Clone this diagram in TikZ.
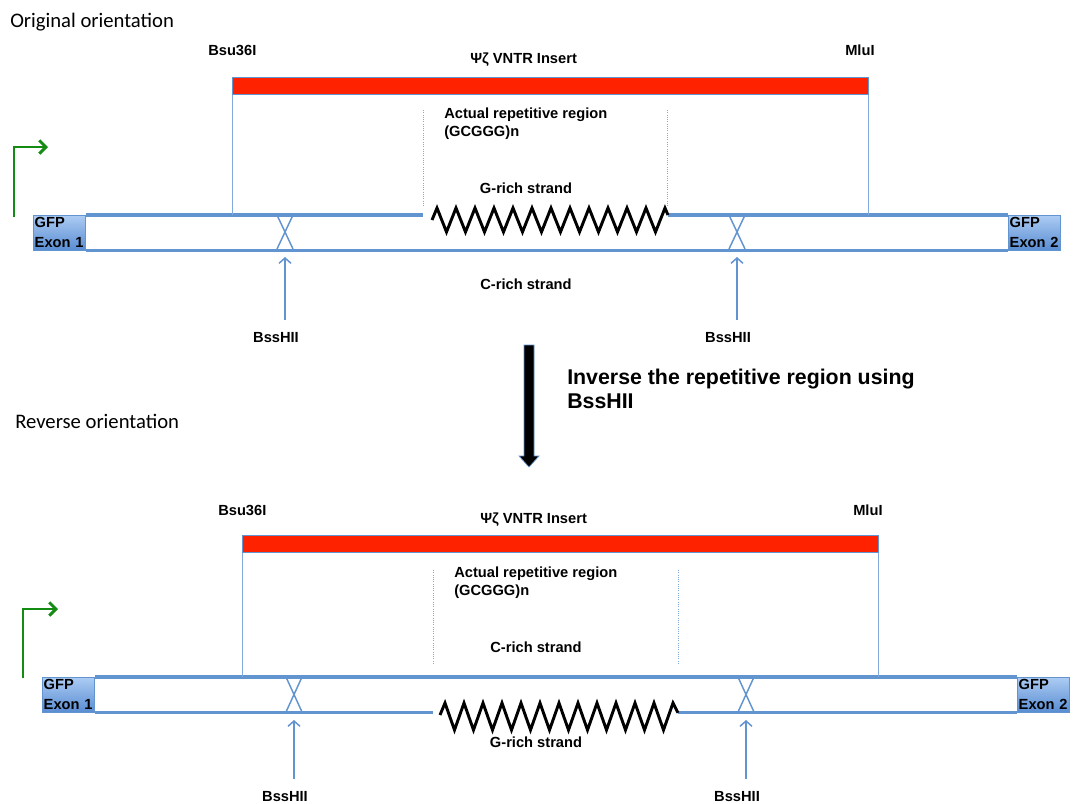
\documentclass[tikz,border=0pt]{standalone}
\usepackage{fontspec}
\setmainfont{Liberation Sans}
\newfontfamily\calfont{Carlito}
\usetikzlibrary{arrows.meta}

\definecolor{strandblue}{RGB}{98,148,208}
\definecolor{guideblue}{RGB}{130,170,220}
\definecolor{exonlight}{RGB}{172,204,243}
\definecolor{exondark}{RGB}{88,140,210}
\definecolor{insertred}{RGB}{255,34,0}
\definecolor{promgreen}{RGB}{20,140,20}

\begin{document}
\begin{tikzpicture}
[x=0.75pt,y=-0.75pt,
 heading/.style={font=\calfont\fontsize{15.5}{18}\selectfont,anchor=base west,inner sep=0pt},
 lbl/.style={font=\bfseries\fontsize{11}{13.5}\selectfont,inner sep=0pt},
 site/.style={lbl,anchor=base,inner ysep=9pt},
 exon/.style={draw=strandblue,line width=0.6pt,top color=exonlight,bottom color=exondark,
   minimum width=39pt,minimum height=26.25pt,text width=37pt,inner xsep=1pt,inner ysep=0.5pt,
   align=left,font=\bfseries\fontsize{11}{15}\selectfont,anchor=north west},
 insert/.style={draw=strandblue,line width=0.5pt,fill=insertred,minimum width=477pt,
   minimum height=12.75pt,anchor=north west,inner sep=0pt},
 strand/.style={draw=strandblue,line width=2.4pt},
 guide/.style={draw=guideblue,line width=0.6pt},
 inner guide/.style={draw=guideblue,line width=0.7pt,densely dotted},
 cross/.style={draw=strandblue,line width=1.1pt},
 zig/.style={draw=black,line width=2.2pt},
 cut/.style={draw=strandblue,line width=1.1pt,-{Straight Barb[length=4pt,width=9pt]},shorten >=6pt},
 promoter/.style={draw=promgreen,line width=2.2pt,-{Straight Barb[length=5pt,width=10pt]}}]

\useasboundingbox (0,0) rectangle (1074,803);

% original orientation
\node (orig) at (10,27) [heading] {Original orientation};
\node (bsuA) at (208,55) [lbl,anchor=base west] {Bsu36I};
\node (vntrA) at (470,63) [lbl,anchor=base west] {Ψζ VNTR Insert};
\node (mluA) at (845,55) [lbl,anchor=base west] {MluI};
\node (insA) at (232,77) [insert] {};
\node (repA) at (444,136) [lbl,anchor=base west,align=left] {Actual repetitive region\\(GCGGG)n};
\node (gA) at (526,193) [lbl,anchor=base] {G-rich strand};
\node (cA) at (526,289) [lbl,anchor=base] {C-rich strand};

\node (ex1) at (33,215) [exon] {GFP\\Exon 1};
\node (ex2) at (1008,215) [exon] {GFP\\Exon 2};
\coordinate (zigA1) at (423,215);
\coordinate (zigA2) at (668,215);

\draw[strand] (ex1.north east) -- (ex1.north east -| zigA1);
\draw[strand] (ex2.north west -| zigA2) -- (ex2.north west);
\draw[strand] (ex1.south east) -- (ex2.south west);
\draw[zig] (432,220) \foreach \k in {0,...,11} { -- ({437+19*\k},208) -- ({446.5+19*\k},232) } -- (665,208) -- (ex2.north west -| zigA2);

\draw[guide] (insA.south west) -- (insA.south west |- ex1.north);
\draw[guide] (insA.south east) -- (insA.south east |- ex1.north);
\draw[inner guide] (423,110) -- (423,207);
\draw[inner guide] (667,110) -- (667,207);

\coordinate (cutA1) at (285,249);
\coordinate (cutA2) at (737,249);
\foreach \c in {cutA1,cutA2}
  \draw[cross] (\c) ++(-8,-34) -- ++(16,34) ++(0,-34) -- ++(-16,34);
\node (bsA1) at (276,342) [site] {BssHII};
\node (bsA2) at (728,342) [site] {BssHII};
\draw[cut] (bsA1.north -| cutA1) -- (cutA1);
\draw[cut] (bsA2.north -| cutA2) -- (cutA2);

\coordinate (promA) at (14,217);
\draw[promoter] (promA) -- ++(0,-70) -- ++(34,0);

% inversion step
\draw[fill=black,draw=strandblue,line width=0.5pt] (524,345) -- (534,345) -- (534,456) -- (539,456)
  -- (529,467) -- (519,456) -- (524,456) -- cycle;
\node (inv) at (567,408) [anchor=base west,inner sep=0pt,align=left,
  font=\bfseries\fontsize{16}{18}\selectfont] {Inverse the repetitive region using\\BssHII};

% reverse orientation
\node (rev) at (15,428) [heading] {Reverse orientation};
\node (bsuB) at (218,515) [lbl,anchor=base west] {Bsu36I};
\node (vntrB) at (480,523) [lbl,anchor=base west] {Ψζ VNTR Insert};
\node (mluB) at (853,515) [lbl,anchor=base west] {MluI};
\node (insB) at (242,535) [insert] {};
\node (repB) at (454,595) [lbl,anchor=base west,align=left] {Actual repetitive region\\(GCGGG)n};
\node (cB) at (536,652) [lbl,anchor=base] {C-rich strand};
\node (gB) at (536,747) [lbl,anchor=base] {G-rich strand};

\node (ex3) at (42,677) [exon] {GFP\\Exon 1};
\node (ex4) at (1017,677) [exon] {GFP\\Exon 2};
\coordinate (zigB1) at (433,712);
\coordinate (zigB2) at (678,712);

\draw[strand] (ex3.north east) -- (ex4.north west);
\draw[strand] (ex3.south east) -- (ex3.south east -| zigB1);
\draw[strand] (ex4.south west -| zigB2) -- (ex4.south west);
\draw[zig] (440,715) \foreach \k in {0,...,11} { -- ({445+19*\k},703) -- ({454.5+19*\k},730) } -- (673,703) -- (ex4.south west -| zigB2);

\draw[guide] (insB.south west) -- (insB.south west |- ex3.north);
\draw[guide] (insB.south east) -- (insB.south east |- ex3.north);
\draw[inner guide] (433,570) -- (433,665);
\draw[inner guide] (678,570) -- (678,665);

\coordinate (cutB1) at (294,712);
\coordinate (cutB2) at (746,712);
\foreach \c in {cutB1,cutB2}
  \draw[cross] (\c) ++(-8,-35) -- ++(16,35) ++(0,-35) -- ++(-16,35);
\node (bsB1) at (285,801) [site] {BssHII};
\node (bsB2) at (737,801) [site] {BssHII};
\draw[cut] (bsB1.north -| cutB1) -- (cutB1);
\draw[cut] (bsB2.north -| cutB2) -- (cutB2);

\coordinate (promB) at (23,678);
\draw[promoter] (promB) -- ++(0,-69) -- ++(35,0);
\end{tikzpicture}
\end{document}
